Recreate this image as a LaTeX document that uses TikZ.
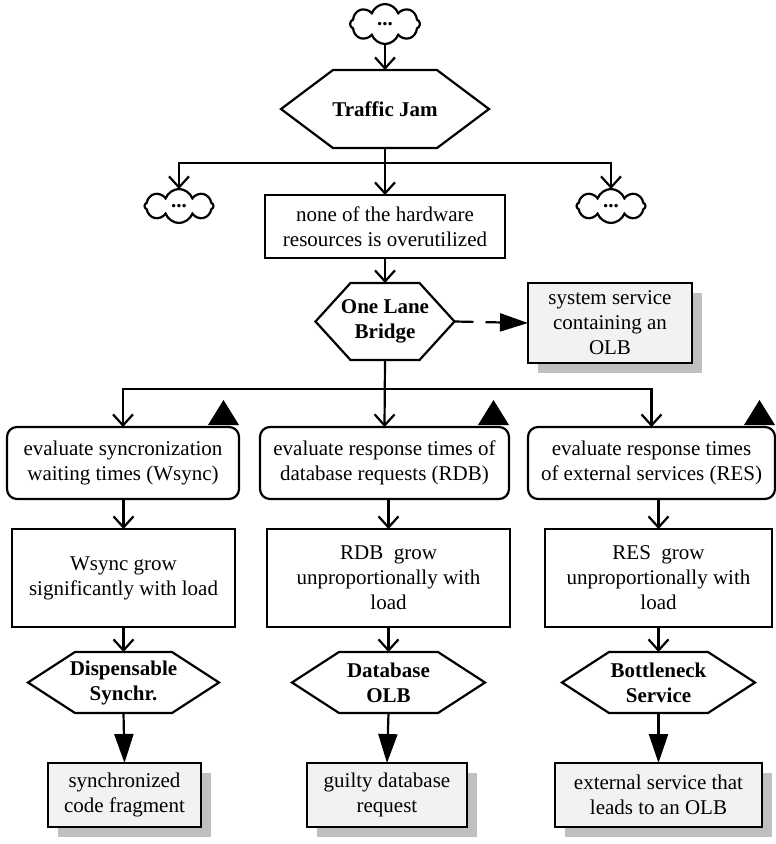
\documentclass[tikz,border=0pt]{standalone}
\usepackage{fontspec}
\setmainfont{Liberation Serif}
\usetikzlibrary{arrows.meta,shapes.symbols,shadows}

\tikzset{
  base/.style={font=\fontsize{21}{25}\selectfont, align=center, inner sep=0pt, outer sep=0pt},
  plainbox/.style={base, draw, line width=2.2pt, fill=white},
  roundbox/.style={plainbox, rounded corners=10pt},
  resultbox/.style={base, draw, line width=2.2pt, fill=gray!10,
    drop shadow={shadow xshift=10pt, shadow yshift=-10pt, fill=gray!50, opacity=1}},
  hexlabel/.style={base, font=\fontsize{21}{25}\selectfont\bfseries},
  puff/.style={base, cloud, draw, line width=2.2pt, cloud puffs=8, cloud puff arc=140,
    cloud ignores aspect, fill=white, font=\fontsize{21}{25}\selectfont\bfseries},
  flow/.style={line width=2.2pt, -{Straight Barb[length=11pt,width=20pt]}},
  solidflow/.style={line width=2.2pt, -{Triangle[length=29pt,width=19pt]}},
  hexline/.style={line width=2.2pt, line join=miter},
}

% hexagon outline around a (borderless) node: #1 node name, #2 depth of the side points
\newcommand{\hexborder}[2]{%
  \draw[hexline] (#1.west) -- ([xshift=#2]#1.north west) -- ([xshift=-#2]#1.north east)
    -- (#1.east) -- ([xshift=-#2]#1.south east) -- ([xshift=#2]#1.south west) -- cycle;}

% black warning triangle sitting on the top right corner of a node
\newcommand{\warnmark}[1]{%
  \fill ([yshift=2pt]#1.north east) -- ++(-31,0) -- ++(15.5,-25) -- cycle;}

\begin{document}
\begin{tikzpicture}[x=1pt,y=-1pt]
\useasboundingbox (0,0) rectangle (776,844);

% top part
\node[puff, minimum width=70pt, minimum height=40pt] (c0) at (385,24) {...};
\node[hexlabel, minimum width=208pt, minimum height=78pt] (tj) at (385,109) {Traffic Jam};
\hexborder{tj}{52pt}
\node[puff, minimum width=69pt, minimum height=34pt] (cl) at (179,206) {...};
\node[puff, minimum width=69pt, minimum height=34pt] (cr) at (611,206) {...};
\node[plainbox, minimum width=240pt, minimum height=63pt] (hw) at (385,226.5)
  {none of the hardware\\resources is overutilized};
\node[hexlabel, minimum width=139pt, minimum height=77pt] (olb) at (385,321.5) {One Lane\\Bridge};
\hexborder{olb}{35pt}
\node[resultbox, minimum width=164pt, minimum height=80pt] (sys) at (610,323)
  {system service\\containing an\\OLB};

\coordinate (j1) at (385,163);
\coordinate (j2) at (385,389);

% evaluation steps
\node[roundbox, minimum width=232pt, minimum height=72pt] (ev1) at (123,463)
  {evaluate syncronization\\waiting times (Wsync)};
\node[roundbox, minimum width=249pt, minimum height=72pt] (ev2) at (384.5,463)
  {evaluate response times of\\database requests (RDB)};
\node[roundbox, minimum width=247pt, minimum height=72pt] (ev3) at (651.5,463)
  {evaluate response times\\of external services (RES)};
\warnmark{ev1}
\warnmark{ev2}
\warnmark{ev3}

% observations
\node[plainbox, minimum width=223pt, minimum height=98pt] (sr1) at (123.5,578)
  {Wsync grow\\significantly with load};
\node[plainbox, minimum width=243pt, minimum height=98pt] (sr2) at (388.5,578)
  {RDB\ \ grow\\unproportionally with\\load};
\node[plainbox, minimum width=227pt, minimum height=98pt] (sr3) at (658.5,578)
  {RES\ \ grow\\unproportionally with\\load};

% antipatterns
\node[hexlabel, minimum width=191pt, minimum height=61pt] (hx1) at (123.5,682.5) {Dispensable\\Synchr.};
\node[hexlabel, minimum width=193pt, minimum height=61pt] (hx2) at (388.5,682.5) {Database\\OLB};
\node[hexlabel, minimum width=193pt, minimum height=61pt] (hx3) at (658.5,682.5) {Bottleneck\\Service};
\hexborder{hx1}{47pt}
\hexborder{hx2}{47pt}
\hexborder{hx3}{47pt}

% results
\node[resultbox, minimum width=153pt, minimum height=64pt] (gb1) at (124.5,795)
  {synchronized\\code fragment};
\node[resultbox, minimum width=160pt, minimum height=64pt] (gb2) at (387,795)
  {guilty database\\request};
\node[resultbox, minimum width=207pt, minimum height=64pt] (gb3) at (658.5,795)
  {external service that\\leads to an OLB};

% connectors
\draw[flow] (c0.south) -- (tj.north);
\draw[flow] (tj.south) -- (hw.north);
\draw[flow] (j1) -| (cl.north);
\draw[flow] (j1) -| (cr.north);
\draw[flow] (hw.south) -- (olb.north);
\draw[line width=2.2pt, dash pattern=on 19pt off 12pt, -{Triangle[length=28pt,width=18pt]}]
  (olb.east) -- (sys.west);
\draw[flow] (olb.south) -- (ev2.north);
\draw[flow] (j2) -| (ev1.north);
\draw[flow] (j2) -| (ev3.north);
\draw[flow] (sr1.north |- ev1.south) -- (sr1.north);
\draw[flow] (sr2.north |- ev2.south) -- (sr2.north);
\draw[flow] (sr3.north |- ev3.south) -- (sr3.north);
\draw[flow] (sr1.south) -- (hx1.north);
\draw[flow] (sr2.south) -- (hx2.north);
\draw[flow] (sr3.south) -- (hx3.north);
\draw[solidflow] (hx1.south) -- (gb1.north);
\draw[solidflow] (hx2.south) -- (gb2.north);
\draw[solidflow] (hx3.south) -- (gb3.north);
\end{tikzpicture}
\end{document}
